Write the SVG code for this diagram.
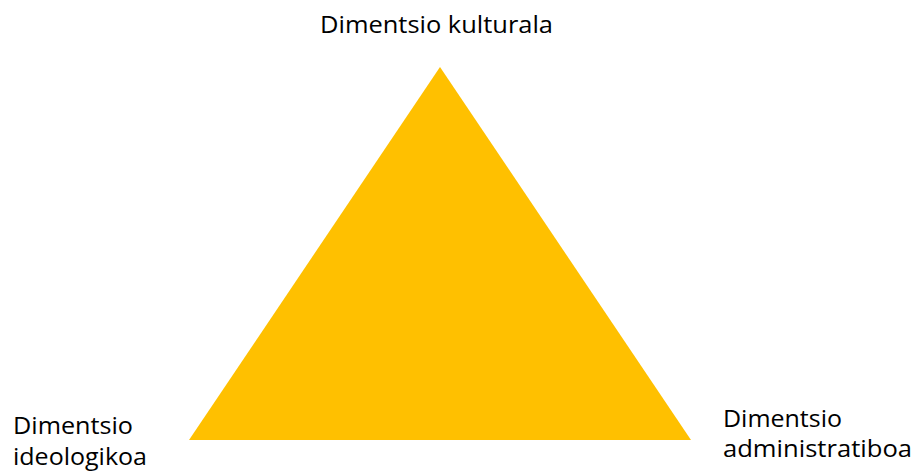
<svg xmlns="http://www.w3.org/2000/svg" width="913" height="474" viewBox="0 0 913 474">
<style>
text{font-family:"Open Sans","Liberation Sans",sans-serif;font-size:23px;fill:#000}
</style>
<rect width="913" height="474" fill="#fff"/>
<g id="triangle"><polygon points="440,67 189,440 691,440" fill="#FFC000"/></g>
<g id="top"><text x="320" y="33" textLength="233" lengthAdjust="spacingAndGlyphs">Dimentsio kulturala</text></g>
<g id="left"><text x="13" y="434" textLength="120" lengthAdjust="spacingAndGlyphs">Dimentsio</text><text x="13" y="465" textLength="134" lengthAdjust="spacingAndGlyphs">ideologikoa</text></g>
<g id="right"><text x="723" y="427" textLength="119" lengthAdjust="spacingAndGlyphs">Dimentsio</text><text x="723" y="457" textLength="189" lengthAdjust="spacingAndGlyphs">administratiboa</text></g>
<g id="connectors"/>
</svg>
